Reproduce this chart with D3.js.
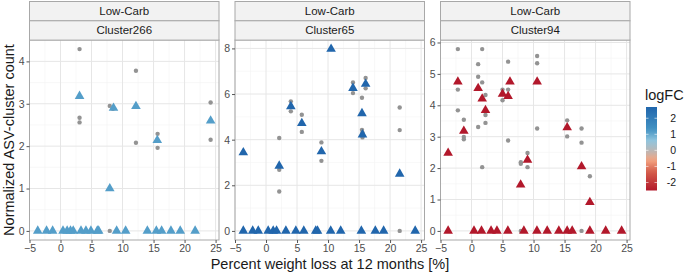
<!DOCTYPE html>
<html>
<head>
<meta charset="utf-8">
<script src="https://cdn.jsdelivr.net/npm/d3@7"></script>
<style>
  body { margin: 0; background: white; }
  text { font-family: "Liberation Sans", Arial, sans-serif; }
</style>
</head>
<body>
<div id="chart"></div>
<script>
// facets
let dietLabel = "Low-Carb";
let clusterNames = ["Cluster266", "Cluster65", "Cluster94"];
let clusterLogFC = [1.15, 2.7, -2.5];

// grey dots: individual samples [weight loss %, count]
let samples266 = [[3.07,4.29],[3.07,2.67],[3.07,2.56],[7.94,2.95],[7.94,0],[8.45,2.88],
  [12.16,3.78],[12.16,2.08],[15.65,2.29],[15.65,1.96],[24.2,3.03],[24.2,2.15]];
let samples65 = [[-3.66,3.44],[2.13,4.07],[2.13,2.68],[2.13,1.73],[4.0,5.68],[4.0,5.24],
  [5.77,5.09],[5.77,4.34],[8.93,3.88],[8.93,3.07],[10.49,7.97],[14.02,6.51],[14.02,6.04],
  [16.06,6.7],[16.06,6.25],[15.47,5.84],[15.47,4.43],[15.55,4.3],[15.55,4.1],
  [21.55,5.41],[21.55,4.42],[21.55,0]];
let samples94 = [[-3.77,2.48],[-2.2,5.79],[-2.2,4.5],[-2.2,3.84],[-1.24,3.54],[-1.24,2.99],
  [-1.24,2.92],[1.07,5.31],[1.07,4.91],[1.07,3.31],[1.72,5.79],[1.72,4.73],[1.72,2.03],
  [2.25,4.33],[2.25,3.69],[2.25,3.44],[5.0,4.5],[5.0,4.16],[5.9,5.39],[5.9,4.5],[5.9,2.88],
  [6.2,4.75],[7.95,2.19],[7.95,2.14],[7.95,0],[9.03,2.48],[9.03,2.03],[10.58,5.57],
  [10.58,5.34],[10.58,3.26],[15.42,3.52],[15.42,3.01],[17.74,3.26],[17.74,2.81],[17.74,0],
  [19.08,1.74]];

// triangles: per-subject means [weight loss %, count]
let means266 = [[3.07,3.18],[7.94,1.0],[8.54,2.9],[12.16,2.94],[15.6,2.14],[24.2,2.6]];
let means65 = [[-3.66,3.44],[2.13,2.85],[4.0,5.46],[5.77,4.72],[8.93,3.48],[10.49,7.97],
  [14.02,6.26],[16.06,6.44],[15.47,5.15],[15.55,4.22],[21.55,2.5]];
let means94 = [[-3.77,2.48],[-2.2,4.75],[-1.24,3.18],[1.07,4.54],[1.72,4.21],[2.25,3.84],
  [5.0,4.36],[5.9,4.29],[6.2,4.75],[7.92,1.47],[9.03,2.26],[10.58,4.75],[15.42,3.29],
  [17.74,2.05],[19.08,0.91]];

// subjects whose mean count is zero (weight loss %)
let zeros266 = [-3.67,-2.25,-1.27,0.4,1.07,1.61,2.05,3.3,4.1,4.9,5.93,6.15,9.05,10.5,
  14.0,15.45,16.3,17.8,19.3,21.7];
let zeros65 = [-3.66,-2.15,-1.25,0.35,1.16,1.7,3.2,4.81,6.09,8.02,8.3,10.43,12.04,15.37,
  17.62,18.96,24.05];
let zeros94 = [-3.77,0.4,1.61,3.15,4.1,5.86,8.44,10.55,12.2,14.08,15.42,16.23,19.08,21.63,24.2];

let xTickValues = [-5, 0, 5, 10, 15, 20, 25];
let legendTicks = [-2, -1, 0, 1, 2];

let allSamples = [samples266, samples65, samples94];
let allMeans = [means266, means65, means94];
let allZeros = [zeros266, zeros65, zeros94];

let w = 685, h = 272;
let svg = d3.select("#chart").append("svg").attr("width", w).attr("height", h);

let panelLeft = [29.5, 235, 440.5];
let panelW = 189.5;
let stripTop = 1.5, stripH = 19.3;
let plotTop = 40, plotBottom = 240;

let colorScale = d3.scaleLinear()
  .domain([-2.5, -1.3, -0.6, 0, 0.6, 1.3, 2.7])
  .range(["#b2182b","#d6604d","#f4a582","#b8b8b8","#92c5de","#4393c3","#2166ac"]);

let xScale = d3.scaleLinear().domain([-5.0, 25.55]);

function expandDomain(lo, hi){
  let pad = (hi - lo) * 0.05;
  return [lo - pad, hi + pad];
}

clusterNames.forEach((name, i) => {
  let x0 = panelLeft[i];
  let x = xScale.copy().range([x0, x0 + panelW]);
  let yMax = d3.max(allSamples[i].concat(allMeans[i]), d => d[1]);
  let y = d3.scaleLinear().domain(expandDomain(0, yMax)).range([plotBottom, plotTop]);
  let g = svg.append("g");

  // grid: minor then major
  let yTicks = y.ticks(5);
  let yStep = yTicks[1] - yTicks[0];
  let yMinor = yTicks.map(t => t + yStep / 2).filter(t => t < y.domain()[1]);
  let xMinor = xTickValues.map(t => t + 2.5).filter(t => t < x.domain()[1]);

  g.selectAll(".minorx").data(xMinor).enter().append("line")
    .attr("x1", d => x(d)).attr("x2", d => x(d))
    .attr("y1", plotTop).attr("y2", plotBottom)
    .attr("stroke", "#f3f3f3").attr("stroke-width", 0.6);
  g.selectAll(".minory").data(yMinor).enter().append("line")
    .attr("x1", x0).attr("x2", x0 + panelW)
    .attr("y1", d => y(d)).attr("y2", d => y(d))
    .attr("stroke", "#f3f3f3").attr("stroke-width", 0.6);
  g.selectAll(".majorx").data(xTickValues).enter().append("line")
    .attr("x1", d => x(d)).attr("x2", d => x(d))
    .attr("y1", plotTop).attr("y2", plotBottom)
    .attr("stroke", "#e6e6e6").attr("stroke-width", 1);
  g.selectAll(".majory").data(yTicks).enter().append("line")
    .attr("x1", x0).attr("x2", x0 + panelW)
    .attr("y1", d => y(d)).attr("y2", d => y(d))
    .attr("stroke", "#e6e6e6").attr("stroke-width", 1);

  // grey sample dots
  g.selectAll(".sample").data(allSamples[i]).enter().append("circle")
    .attr("cx", d => x(d[0])).attr("cy", d => y(d[1]))
    .attr("r", 2.2).attr("fill", "#939393");

  // triangles
  let tri = d3.symbol().type(d3.symbolTriangle).size(40);
  let meanPts = allMeans[i].concat(allZeros[i].map(v => [v, 0]));
  g.selectAll(".mean").data(meanPts).enter().append("path")
    .attr("d", tri)
    .attr("transform", d => "translate(" + x(d[0]) + "," + y(d[1]) + ")")
    .attr("fill", colorScale(clusterLogFC[i]));

  // panel border
  g.append("rect").attr("x", x0).attr("y", plotTop)
    .attr("width", panelW).attr("height", plotBottom - plotTop)
    .attr("fill", "none").attr("stroke", "#a8a8a8").attr("stroke-width", 1);

  // strips
  [dietLabel, name].forEach((label, k) => {
    let sy = stripTop + k * stripH;
    g.append("rect").attr("x", x0).attr("y", sy)
      .attr("width", panelW).attr("height", stripH)
      .attr("fill", "#f2f2f2").attr("stroke", "#a8a8a8").attr("stroke-width", 1);
    g.append("text").attr("x", x0 + panelW / 2).attr("y", sy + stripH / 2 + 4)
      .attr("text-anchor", "middle").attr("font-size", 11.5).attr("fill", "#1a1a1a")
      .text(label);
  });

  // axes
  let xAxis = d3.axisBottom(x).tickValues(xTickValues).tickSize(3).tickPadding(2);
  let xg = g.append("g").attr("transform", "translate(0," + plotBottom + ")").call(xAxis);
  let yAxis = d3.axisLeft(y).ticks(5).tickSize(3).tickPadding(2);
  let yg = g.append("g").attr("transform", "translate(" + x0 + ",0)").call(yAxis);
  [xg, yg].forEach(a => {
    a.select(".domain").remove();
    a.selectAll(".tick line").attr("stroke", "#555");
    a.selectAll(".tick text").attr("fill", "#4d4d4d").attr("font-size", 10.5)
      .style("font-family", "'Liberation Sans', Arial, sans-serif");
  });
});

// axis titles
svg.append("text").attr("x", 330).attr("y", 268.5).attr("text-anchor", "middle")
  .attr("font-size", 14.5).attr("fill", "#1a1a1a")
  .text("Percent weight loss at 12 months [%]");
svg.append("text").attr("transform", "translate(13.5,140) rotate(-90)")
  .attr("text-anchor", "middle").attr("font-size", 14.5).attr("fill", "#1a1a1a")
  .text("Normalized ASV-cluster count");

// legend
let legTop = 107, legBottom = 190.5, legX = 646, legW = 11;
let legScale = d3.scaleLinear().domain([-2.5, 2.7]).range([legBottom, legTop]);
let grad = svg.append("defs").append("linearGradient").attr("id", "lg")
  .attr("x1", "0%").attr("y1", "100%").attr("x2", "0%").attr("y2", "0%");
d3.range(0, 1.0001, 0.05).forEach(t => {
  let v = legScale.domain()[0] + t * (legScale.domain()[1] - legScale.domain()[0]);
  grad.append("stop").attr("offset", (t * 100) + "%").attr("stop-color", colorScale(v));
});
svg.append("rect").attr("x", legX).attr("y", legTop).attr("width", legW)
  .attr("height", legBottom - legTop).attr("fill", "url(#lg)");
svg.selectAll(".legtick").data(legendTicks).enter().append("g").each(function(d){
  let gg = d3.select(this);
  gg.append("line").attr("x1", legX).attr("x2", legX + 2.5)
    .attr("y1", legScale(d)).attr("y2", legScale(d)).attr("stroke", "white").attr("stroke-width", 0.6);
  gg.append("line").attr("x1", legX + legW - 2.5).attr("x2", legX + legW)
    .attr("y1", legScale(d)).attr("y2", legScale(d)).attr("stroke", "white").attr("stroke-width", 0.6);
  gg.append("text").attr("x", 676).attr("y", legScale(d) + 3.8)
    .attr("text-anchor", "end").attr("font-size", 10.5).attr("fill", "#1a1a1a").text(d);
});
svg.append("text").attr("x", 645).attr("y", 100).attr("font-size", 14.5)
  .attr("fill", "#1a1a1a").text("logFC");
</script>
</body>
</html>
